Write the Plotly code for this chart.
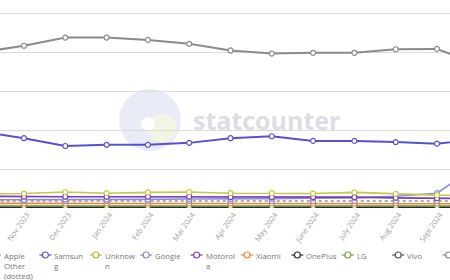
import plotly.graph_objects as go

months = ["Oct 2023", "Nov 2023", "Dec 2023", "Jan 2024", "Feb 2024", "Mar 2024",
          "Apr 2024", "May 2024", "June 2024", "July 2024", "Aug 2024", "Sept 2024", "Oct 2024"]
month_idx = list(range(-1, len(months) - 1))

apple = [40.0, 41.6, 43.7, 43.7, 43.1, 42.1, 40.4, 39.6, 39.8, 39.8, 40.7, 40.8, 36.7]
samsung = [19.5, 17.9, 15.9, 16.2, 16.2, 16.7, 17.9, 18.4, 17.2, 17.2, 16.9, 16.5, 17.7]
unknown = [3.6, 3.7, 4.1, 3.8, 4.0, 4.1, 3.8, 3.8, 3.7, 4.0, 3.6, 3.3, 3.2]
motorola = [3.0, 2.9, 2.9, 2.9, 2.9, 2.9, 2.8, 2.8, 2.8, 2.8, 2.6, 2.5, 2.4]
google = [2.1, 2.1, 2.2, 2.2, 2.2, 2.3, 2.3, 2.4, 2.5, 2.6, 3.0, 3.8, 11.0]
other = [1.8, 1.8, 1.8, 1.8, 1.8, 1.8, 1.8, 1.8, 1.8, 1.8, 1.8, 1.8, 1.8]
xiaomi = [1.2, 1.15, 1.15, 1.15, 1.15, 1.15, 1.15, 1.15, 1.15, 1.15, 1.15, 1.15, 1.1]
lg = [0.5, 0.5, 0.5, 0.5, 0.5, 0.5, 0.5, 0.5, 0.5, 0.5, 0.5, 0.5, 0.5]
oneplus = [0.2, 0.2, 0.2, 0.2, 0.2, 0.2, 0.2, 0.2, 0.2, 0.2, 0.2, 0.2, 0.2]
vivo = [0.1, 0.1, 0.1, 0.1, 0.1, 0.1, 0.1, 0.1, 0.1, 0.1, 0.1, 0.1, 0.1]

series = [
    ("Vivo", vivo, "#555555", "solid"),
    ("OnePlus", oneplus, "#2a2a2a", "solid"),
    ("LG", lg, "#6e8f35", "solid"),
    ("Xiaomi", xiaomi, "#e0893a", "solid"),
    ("Other (dotted)", other, "#8f8f9f", "dot"),
    ("Google", google, "#8a8ce0", "solid"),
    ("Motorola", motorola, "#7b3ab8", "solid"),
    ("Unknown", unknown, "#c7c742", "solid"),
    ("Samsung", samsung, "#5a4fd4", "solid"),
    ("Apple", apple, "#8a8a8a", "solid"),
]

# legend labels as wrapped in the reference; the last entry's text lies beyond the right edge
legend_labels = ["Apple<br>Other<br>(dotted)", "Samsun<br>g", "Unknow<br>n", "Google",
                 "Motorol<br>a", "Xiaomi", "OnePlus", "LG", "Vivo", ""]
legend_colors = ["#8a8a8a", "#5a4fd4", "#b8b830", "#8a8ab8", "#7b3ab8",
                 "#e0893a", "#2a2a2a", "#7f9f3f", "#555555", "#888888"]

W, H = 450, 280
PLOT_H = 208

fig = go.Figure()
for name, vals, color, dash in series:
    fig.add_trace(go.Scatter(
        x=month_idx, y=vals, name=name, mode="lines+markers",
        line=dict(color=color, width=2 if name in ("Apple", "Samsung") else 1.6, dash=dash),
        marker=dict(size=5, color="white", line=dict(color=color, width=1.2)),
        showlegend=False,
    ))

shapes = []
annotations = []
# watermark logo
shapes.append(dict(type="circle", xref="paper", yref="paper", layer="below",
                   xsizemode="pixel", ysizemode="pixel", xanchor=150 / W, yanchor=(PLOT_H - 120) / PLOT_H,
                   x0=-31, x1=31, y0=-31, y1=31, fillcolor="#e9ebf7", line=dict(width=0)))
shapes.append(dict(type="circle", xref="paper", yref="paper", layer="below",
                   xsizemode="pixel", ysizemode="pixel", xanchor=162 / W, yanchor=(PLOT_H - 128) / PLOT_H,
                   x0=-14, x1=14, y0=-14, y1=14, fillcolor="#f4f4e2", line=dict(width=0)))
shapes.append(dict(type="circle", xref="paper", yref="paper", layer="below",
                   xsizemode="pixel", ysizemode="pixel", xanchor=148 / W, yanchor=(PLOT_H - 124) / PLOT_H,
                   x0=-7, x1=7, y0=-7, y1=7, fillcolor="white", line=dict(width=0)))
annotations.append(dict(text="<b>statcounter</b>", xref="paper", yref="paper",
                        x=266 / W, y=(PLOT_H - 120) / PLOT_H, showarrow=False,
                        font=dict(family="Open Sans", size=25, color="#dcdee6")))

# legend
leg_y_px = 255
for i, (lab, col) in enumerate(zip(legend_labels, legend_colors)):
    xc = -5 + 50.4 * i
    ly = (PLOT_H - leg_y_px) / PLOT_H
    shapes.append(dict(type="line", xref="paper", yref="paper", x0=(xc - 6) / W, x1=(xc + 6) / W,
                       y0=ly, y1=ly, line=dict(color=col, width=1.2)))
    shapes.append(dict(type="circle", xref="paper", yref="paper",
                       xsizemode="pixel", ysizemode="pixel", xanchor=xc / W, yanchor=ly,
                       x0=-3, x1=3, y0=-3, y1=3, fillcolor="white", line=dict(color=col, width=1.2)))
    if lab:
        annotations.append(dict(text=lab, xref="paper", yref="paper", x=(xc + 7) / W,
                                y=(PLOT_H - 249) / PLOT_H, xanchor="left", yanchor="top", align="left",
                                showarrow=False, font=dict(family="Open Sans", size=7.8, color="#777777")))

fig.update_layout(
    width=W, height=H,
    margin=dict(l=0, r=0, t=0, b=H - PLOT_H, pad=0, autoexpand=False),
    paper_bgcolor="white", plot_bgcolor="white",
    shapes=shapes, annotations=annotations,
    showlegend=False,
    xaxis=dict(range=[-24 / 41.3, (W - 24) / 41.3], tickvals=month_idx, ticktext=months,
               tickangle=-55, showgrid=False, zeroline=False, showline=False, ticks="",
               ticklabelshift=3,
               tickfont=dict(family="Open Sans", size=7.4, color="#a0a0a0")),
    yaxis=dict(range=[0, PLOT_H / 3.9], dtick=10, showticklabels=False, gridcolor="#dcdcdc",
               gridwidth=1, zeroline=False, showline=False),
)

fig.write_html("out.html")
